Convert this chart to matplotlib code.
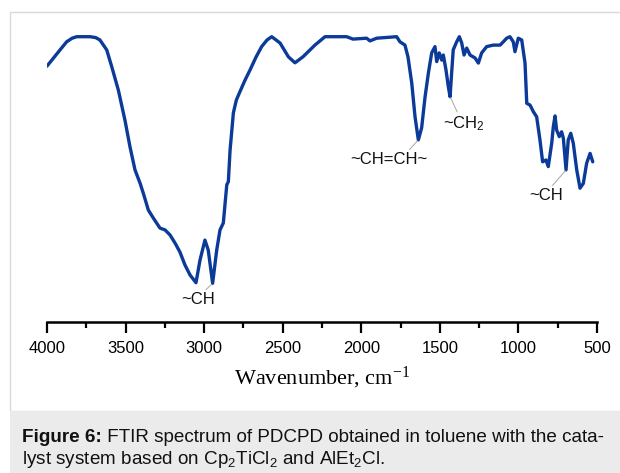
import numpy as np
import matplotlib
matplotlib.use("Agg")
import matplotlib.pyplot as plt
from matplotlib.patches import Rectangle

plt.rcParams['mathtext.fontset'] = 'custom'
plt.rcParams['mathtext.rm'] = 'Liberation Sans'
plt.rcParams['mathtext.it'] = 'Liberation Sans'
plt.rcParams['mathtext.bf'] = 'Liberation Sans:bold'
plt.rcParams['mathtext.sf'] = 'Liberation Sans'
plt.rcParams['font.family'] = ['Liberation Sans', 'DejaVu Sans']

# FTIR spectrum (wavenumber, cm-1 ; transmittance, arbitrary %)
wavenumber = [4000, 3960, 3917, 3875, 3840, 3811, 3726, 3690, 3663, 3620, 3588, 3546, 3504, 3472,
              3440, 3408, 3387, 3355, 3324, 3281, 3249, 3217, 3185, 3154, 3122, 3090,
              3052, 3026, 2995, 2974, 2946, 2920, 2899, 2878, 2856, 2846, 2835, 2814,
              2795, 2772, 2740, 2708, 2670, 2634, 2600, 2570, 2517, 2464, 2422, 2371, 2295, 2231, 2093, 2053,
              1966, 1945, 1902, 1775, 1754, 1722, 1703, 1679, 1658, 1637, 1616, 1594,
              1573, 1552, 1531, 1520, 1504, 1488, 1478, 1461, 1446, 1435, 1425, 1415,
              1393, 1376, 1361, 1346, 1329, 1308, 1276, 1255, 1234, 1202, 1160, 1117,
              1096, 1075, 1054, 1033, 1022, 1001, 979, 958, 947, 926, 905, 884,
              863, 846, 825, 810, 788, 778, 767, 757, 740, 725, 714, 697,
              683, 667, 651, 629, 608, 587, 566, 544, 527]
transmittance = [85.3, 87.9, 90.7, 93.4, 94.6, 95.1, 95.1, 94.8, 94.0, 90.7, 85.1, 77.3, 67.3, 58.4,
                 50.7, 46.3, 42.9, 37.3, 34.7, 31.3, 30.7, 29.0, 26.3, 23.3, 19.0, 15.7,
                 13.1, 20.7, 27.3, 24.0, 12.9, 24.0, 30.7, 33.0, 45.7, 46.8, 57.3, 69.7,
                 74.0, 76.8, 80.6, 84.0, 88.3, 91.8, 94.0, 95.1, 93.0, 88.4, 86.4, 88.4, 92.3, 95.1, 95.1, 94.3,
                 94.6, 93.7, 94.6, 95.1, 93.4, 92.3, 88.4, 79.7, 68.4, 60.7, 64.7, 75.1,
                 83.0, 89.7, 91.8, 86.8, 89.7, 87.3, 89.0, 84.0, 78.4, 75.1, 83.0, 90.7,
                 93.4, 95.1, 93.0, 89.0, 91.3, 89.0, 88.0, 86.3, 89.7, 91.8, 92.3, 92.3,
                 93.4, 94.6, 95.1, 93.4, 90.1, 94.6, 94.0, 86.3, 72.9, 72.3, 70.1, 68.4,
                 60.7, 53.4, 54.0, 51.8, 59.7, 65.1, 68.7, 64.0, 61.8, 63.4, 61.2, 50.7,
                 60.7, 62.9, 59.6, 50.7, 44.6, 46.2, 52.9, 56.2, 53.4]

tick_values = [4000, 3500, 3000, 2500, 2000, 1500, 1000, 500]
tick_labels = ['4000', '3500', '3000', '2500', '2000', '1500', '1000', '500']
minor_ticks = [3750, 3250, 2750, 2250, 1750, 1250, 750]

peak_labels = ['~CH', '~CH=CH~', r'~CH$_2$', '~CH']
peak_positions = [2946, 1637, 1435, 697]
label_offsets = [(-10.6, -12.0), (-21.0, -14.4), (10.0, -19.7), (-14.4, -18.7)]
leader_relpos = [(0.65, 1.0), (0.73, 1.0), (0.37, 1.0), (0.62, 1.0)]

caption_bold = 'Figure 6:'
caption_line1 = ' FTIR spectrum of PDCPD obtained in toluene with the cata-'
caption_line2 = r'lyst system based on Cp$_2$TiCl$_2$ and AlEt$_2$Cl.'

W, H = 620, 473
fig = plt.figure(figsize=(W / 100, H / 100), dpi=100)

# frame and caption box
fig.patches.append(Rectangle((10 / W, 1 - 411 / H), 700 / W, (411 - 12) / H,
                             transform=fig.transFigure, facecolor='white',
                             edgecolor='#d9d9d9', linewidth=1.0, zorder=-10))
fig.patches.append(Rectangle((10 / W, 0), 700 / W, (473 - 411) / H,
                             transform=fig.transFigure, facecolor='#ebebeb',
                             edgecolor='none', zorder=-10))

ax = fig.add_axes([47 / W, 1 - 322 / H, 550 / W, 300 / H])
ax.patch.set_alpha(0)
ax.plot(wavenumber, transmittance, color='#0b3a98', lw=2.4,
        solid_joinstyle='round', solid_capstyle='round', zorder=3)
ax.set_xlim(4000, 500)
ax.set_ylim(0, 100)

for s in ['left', 'right', 'top']:
    ax.spines[s].set_visible(False)
ax.spines['bottom'].set_linewidth(1.8)
ax.set_yticks([])
ax.set_xticks(tick_values)
ax.set_xticklabels(tick_labels)
ax.set_xticks(minor_ticks, minor=True)
ax.tick_params(axis='x', which='major', direction='out', length=8, width=1.6,
               labelsize=12, pad=6)
ax.tick_params(axis='x', which='minor', direction='out', length=4.5, width=1.6)
ax.set_xlabel(r'Wavenumber, cm$\mathregular{^{-1}}$', family='Liberation Serif',
              fontsize=16, labelpad=6)

wn_asc = wavenumber[::-1]
tr_asc = transmittance[::-1]
for lab, pos, off, rp in zip(peak_labels, peak_positions, label_offsets, leader_relpos):
    yv = float(np.interp(pos, wn_asc, tr_asc))
    ax.annotate(lab, xy=(pos, yv), xytext=off, textcoords='offset points',
                ha='center', va='center', fontsize=12, color='#111111',
                arrowprops=dict(arrowstyle='-', color='#a6a6a6', lw=0.7,
                                shrinkA=0, shrinkB=1, relpos=rp))

cap_fs = 13.55
t_bold = fig.text(22 / W, 1 - 437 / H, caption_bold, fontsize=cap_fs,
                  fontweight='bold', va='center', ha='left', color='#111111')
fig.canvas.draw()
bb = t_bold.get_window_extent()
fig.text(bb.x1 / W, 1 - 437 / H, caption_line1, fontsize=cap_fs,
         va='center', ha='left', color='#111111')
fig.text(22 / W, 1 - 459 / H, caption_line2, fontsize=cap_fs,
         va='center', ha='left', color='#111111')

fig.savefig('out.png', dpi=100)
